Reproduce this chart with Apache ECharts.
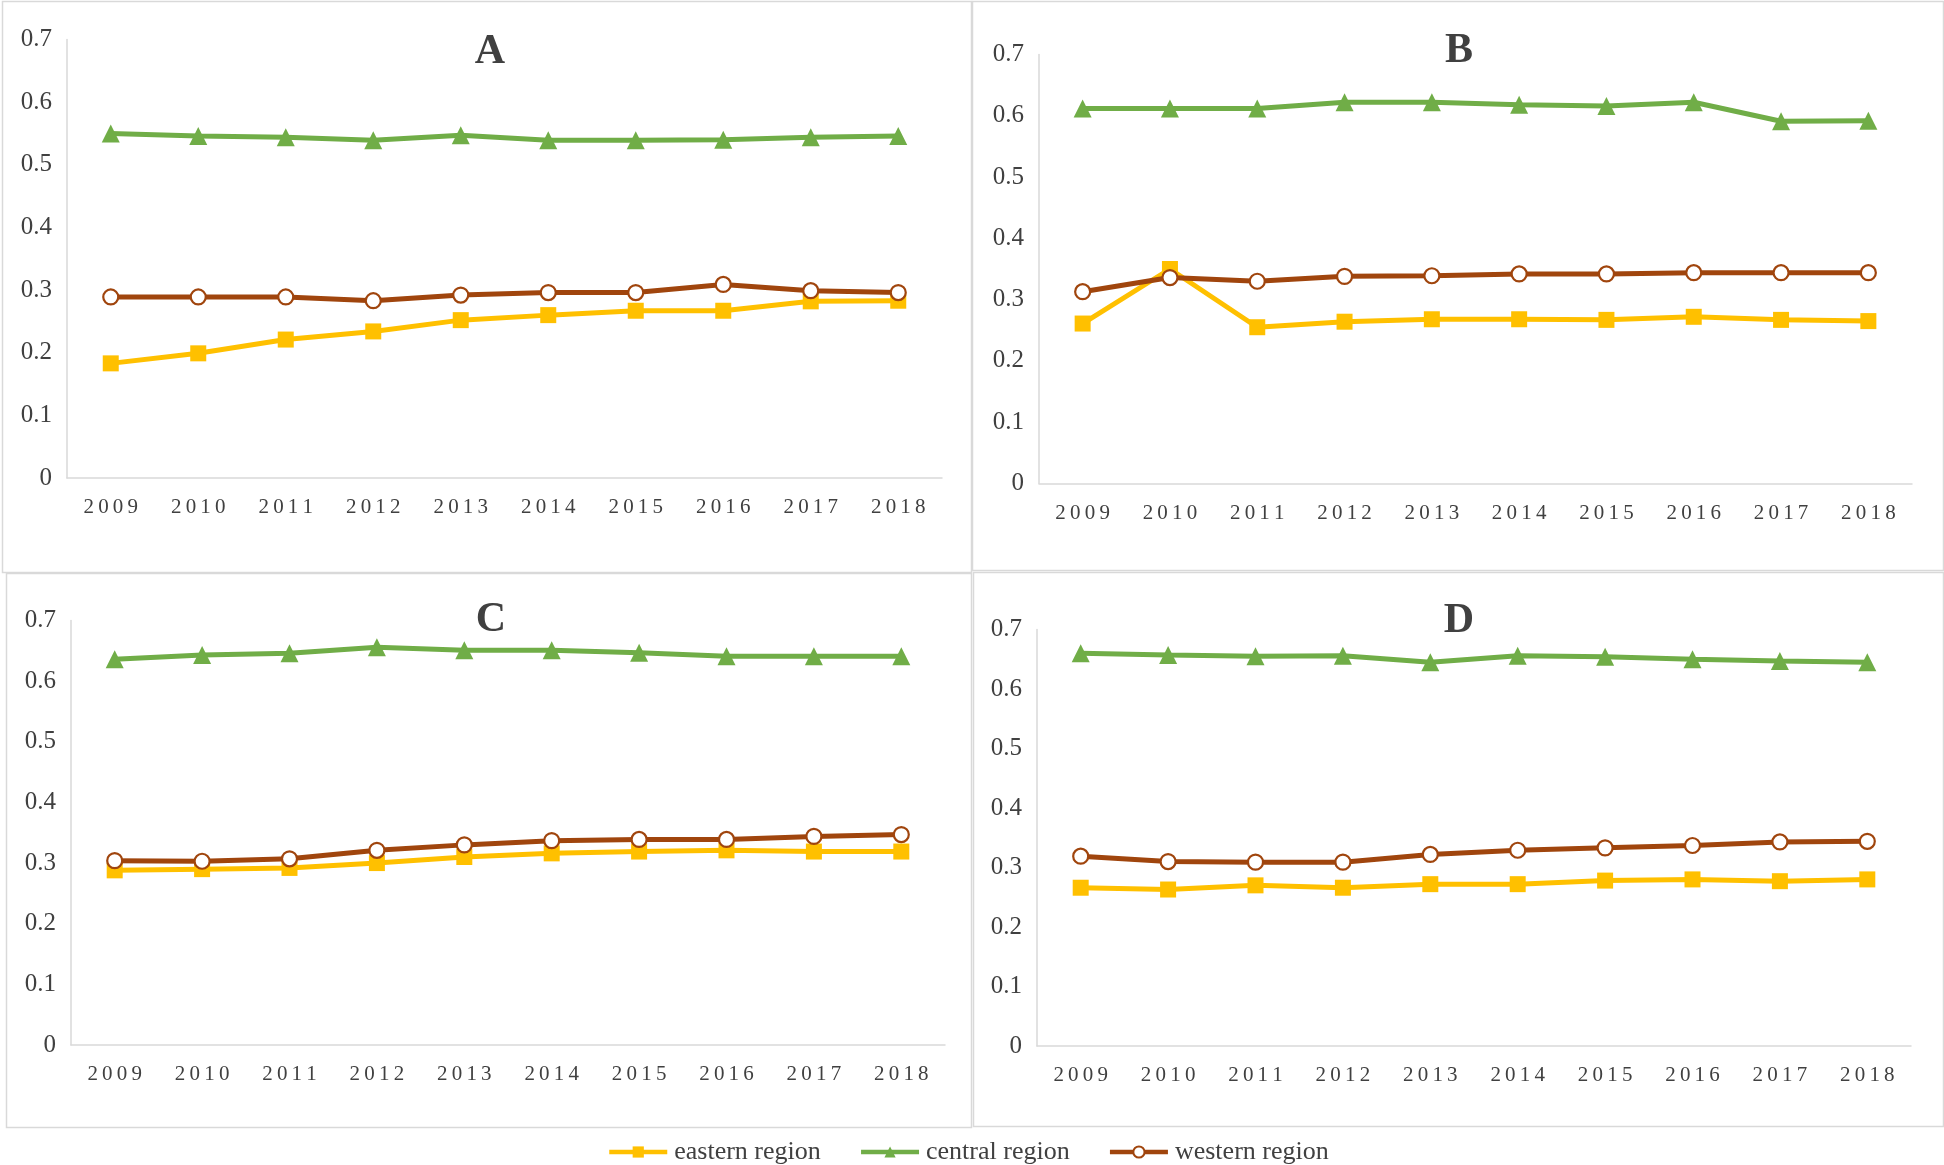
<!DOCTYPE html>
<html>
<head>
<meta charset="utf-8">
<script src="https://cdn.jsdelivr.net/npm/echarts@6/dist/echarts.min.js"></script>
<style>
html,body{margin:0;padding:0;background:#fff;}
#chart{width:1944px;height:1165px;}
</style>
</head>
<body>
<div id="chart"></div>
<script>
// ---- data ----
const years = ['2009','2010','2011','2012','2013','2014','2015','2016','2017','2018'];
const panelTitles = ['A','B','C','D'];
const seriesNames = ['eastern region','central region','western region'];
const yTicks = [0, 0.1, 0.2, 0.3, 0.4, 0.5, 0.6, 0.7];

const easternA = [0.183,0.199,0.221,0.234,0.252,0.260,0.267,0.267,0.282,0.283];
const centralA = [0.550,0.546,0.544,0.539,0.547,0.539,0.539,0.540,0.544,0.546];
const westernA = [0.289,0.289,0.289,0.283,0.292,0.296,0.296,0.309,0.299,0.296];

const easternB = [0.261,0.350,0.255,0.264,0.268,0.268,0.267,0.272,0.267,0.265];
const centralB = [0.612,0.612,0.612,0.622,0.622,0.618,0.616,0.622,0.591,0.592];
const westernB = [0.313,0.336,0.330,0.338,0.339,0.342,0.342,0.344,0.344,0.344];

const easternC = [0.288,0.290,0.292,0.300,0.310,0.316,0.319,0.321,0.319,0.319];
const centralC = [0.636,0.643,0.646,0.656,0.651,0.651,0.647,0.641,0.641,0.641];
const westernC = [0.304,0.303,0.307,0.321,0.330,0.337,0.339,0.339,0.344,0.347];

const easternD = [0.266,0.263,0.270,0.266,0.272,0.272,0.278,0.280,0.277,0.280];
const centralD = [0.660,0.657,0.655,0.656,0.645,0.656,0.654,0.650,0.647,0.645];
const westernD = [0.319,0.310,0.309,0.309,0.322,0.329,0.333,0.337,0.343,0.344];

const panelData = [
  [easternA, centralA, westernA],
  [easternB, centralB, westernB],
  [easternC, centralC, westernC],
  [easternD, centralD, westernD]
];

// ---- layout / style ----
const FONT = '"Liberation Serif", "Times New Roman", serif';
const TXT = '#404040';
const AXIS = '#d9d9d9';
const colors = ['#FFC000', '#70AD47', '#A0450D'];
const symbols = ['rect', 'triangle', 'circle'];
const symbolSizes = [16, 18, 15];

const grids = [
  {left: 67,   top: 39.5, width: 875, height: 438.5},
  {left: 1039, top: 54.5, width: 873, height: 429},
  {left: 71,   top: 620.5, width: 874, height: 424.5},
  {left: 1037, top: 629.5, width: 874, height: 416.5}
];
const titlePos = [[485, 26], [1454, 25], [486, 594], [1454, 595]];
const boxes = [
  [2, 1, 969, 571],
  [972, 1, 971, 569],
  [6, 573, 965, 554],
  [973, 572, 970, 554]
];

const chart = echarts.init(document.getElementById('chart'), null, {renderer: 'canvas'});

const xAxes = [], yAxes = [], series = [], titles = [];
grids.forEach((g, i) => {
  xAxes.push({
    type: 'category', gridIndex: i, data: years, boundaryGap: true,
    axisLine: {show: true, lineStyle: {color: AXIS, width: 1.5}},
    axisTick: {show: false},
    axisLabel: {
      color: TXT, fontFamily: FONT, fontSize: 21, margin: 19,
      formatter: v => v.split('').join('\u2009')
    },
    splitLine: {show: false}
  });
  yAxes.push({
    type: 'value', gridIndex: i, min: yTicks[0], max: yTicks[yTicks.length - 1], interval: 0.1,
    axisLine: {show: true, lineStyle: {color: AXIS, width: 1.5}},
    axisTick: {show: false},
    axisLabel: {color: TXT, fontFamily: FONT, fontSize: 25, margin: 15,
      formatter: v => String(Math.round(v * 10) / 10)},
    splitLine: {show: false}
  });
  titles.push({
    text: panelTitles[i], left: titlePos[i][0], top: titlePos[i][1], textAlign: 'center',
    textStyle: {fontFamily: FONT, fontSize: 42, fontWeight: 'bold', color: TXT}
  });
  panelData[i].forEach((vals, k) => {
    series.push({
      name: seriesNames[k], type: 'line', xAxisIndex: i, yAxisIndex: i,
      data: vals,
      symbol: symbols[k], symbolSize: symbolSizes[k], showAllSymbol: true,
      lineStyle: {color: colors[k], width: 5},
      itemStyle: k === 2
        ? {color: '#ffffff', borderColor: colors[k], borderWidth: 2.2}
        : {color: colors[k], borderWidth: 0},
      z: 2 + k,
      animation: false
    });
  });
});

const graphics = boxes.map(b => ({
  type: 'rect', silent: true, z: -10,
  shape: {x: b[0] + 0.5, y: b[1] + 0.5, width: b[2], height: b[3]},
  style: {fill: 'none', stroke: AXIS, lineWidth: 1.5}
}));

chart.setOption({
  backgroundColor: '#ffffff',
  animation: false,
  title: titles,
  grid: grids,
  xAxis: xAxes,
  yAxis: yAxes,
  series: series,
  graphic: graphics,
  legend: {
    data: seriesNames,
    left: 602, top: 1134,
    itemWidth: 58, itemHeight: 14, itemGap: 38,
    lineStyle: {width: 4.5},
    textStyle: {fontFamily: FONT, fontSize: 26, color: TXT, padding: [0, 0, 0, 2]}
  }
});
</script>
</body>
</html>
